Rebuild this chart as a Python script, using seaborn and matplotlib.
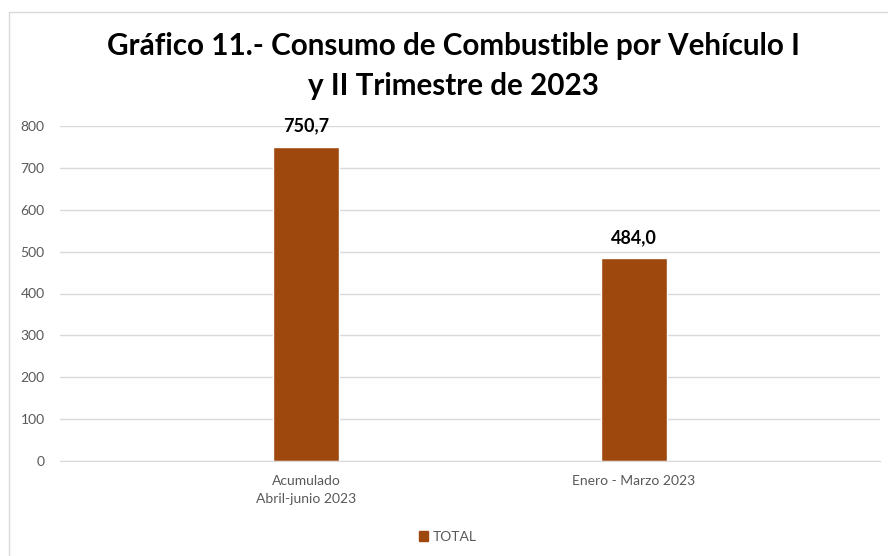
import pandas as pd
import matplotlib
matplotlib.use('Agg')
import matplotlib.pyplot as plt
import seaborn as sns
from matplotlib.patches import Rectangle

# datos del gráfico
periodos = ['Acumulado\nAbril-junio 2023', 'Enero - Marzo 2023']
consumo = [750.7, 484.0]
serie = ['TOTAL', 'TOTAL']
etiquetas = ['750,7', '484,0']

color_barra = '#9E480E'
gris_texto = '#595959'
gris_linea = '#D9D9D9'

sns.set_style('white')
plt.rcParams['font.family'] = ['Lato', 'DejaVu Sans']

df = pd.DataFrame({'periodo': periodos, 'consumo': consumo, 'serie': serie})

fig = plt.figure(figsize=(8.88, 5.56), dpi=100)
ax = fig.add_axes([60 / 888, 95 / 556, 820 / 888, 335 / 556])

sns.barplot(data=df, x='periodo', y='consumo', hue='serie', palette=[color_barra],
            width=0.2, ax=ax, legend=False, saturation=1)

ax.set_xlim(-0.75, 1.75)
ax.set_ylim(0, 800)
ax.set_yticks(range(0, 801, 100))
ax.yaxis.grid(True, color=gris_linea, lw=1)
ax.set_axisbelow(True)
for s in ['top', 'right', 'left']:
    ax.spines[s].set_visible(False)
ax.spines['bottom'].set_color(gris_linea)
ax.tick_params(axis='both', length=0, labelsize=10, labelcolor=gris_texto)
ax.tick_params(axis='y', pad=11)
ax.tick_params(axis='x', pad=10)
for t in ax.get_xticklabels():
    t.set_linespacing(1.65)
ax.set_xlabel('')
ax.set_ylabel('')

# etiquetas de datos
for i, (v, txt) in enumerate(zip(consumo, etiquetas)):
    ax.annotate(txt, (i, v), xytext=(0, 9), textcoords='offset points',
                ha='center', va='bottom', fontsize=13, fontweight='bold', color='black')

fig.text(0.511, 1 - 66 / 556, 'Gráfico 11.- Consumo de Combustible por Vehículo I\ny II Trimestre de 2023',
         ha='center', va='center', fontsize=21.3, fontweight='bold', linespacing=1.55,
         color='black')

# leyenda
handle = Rectangle((0, 0), 1, 1, color=color_barra)
fig.legend([handle], ['TOTAL'], loc='center', bbox_to_anchor=(0.504, 1 - 537 / 556),
           frameon=False, fontsize=10, labelcolor=gris_texto, handlelength=0.7,
           handleheight=0.7, handletextpad=0.3)

# borde del gráfico
fig.patches.append(Rectangle((9 / 888, -0.05), 1.1, 1.05 - 12 / 556, transform=fig.transFigure,
                             fill=False, edgecolor=gris_linea, lw=1))

fig.savefig('out.png', dpi=100)
